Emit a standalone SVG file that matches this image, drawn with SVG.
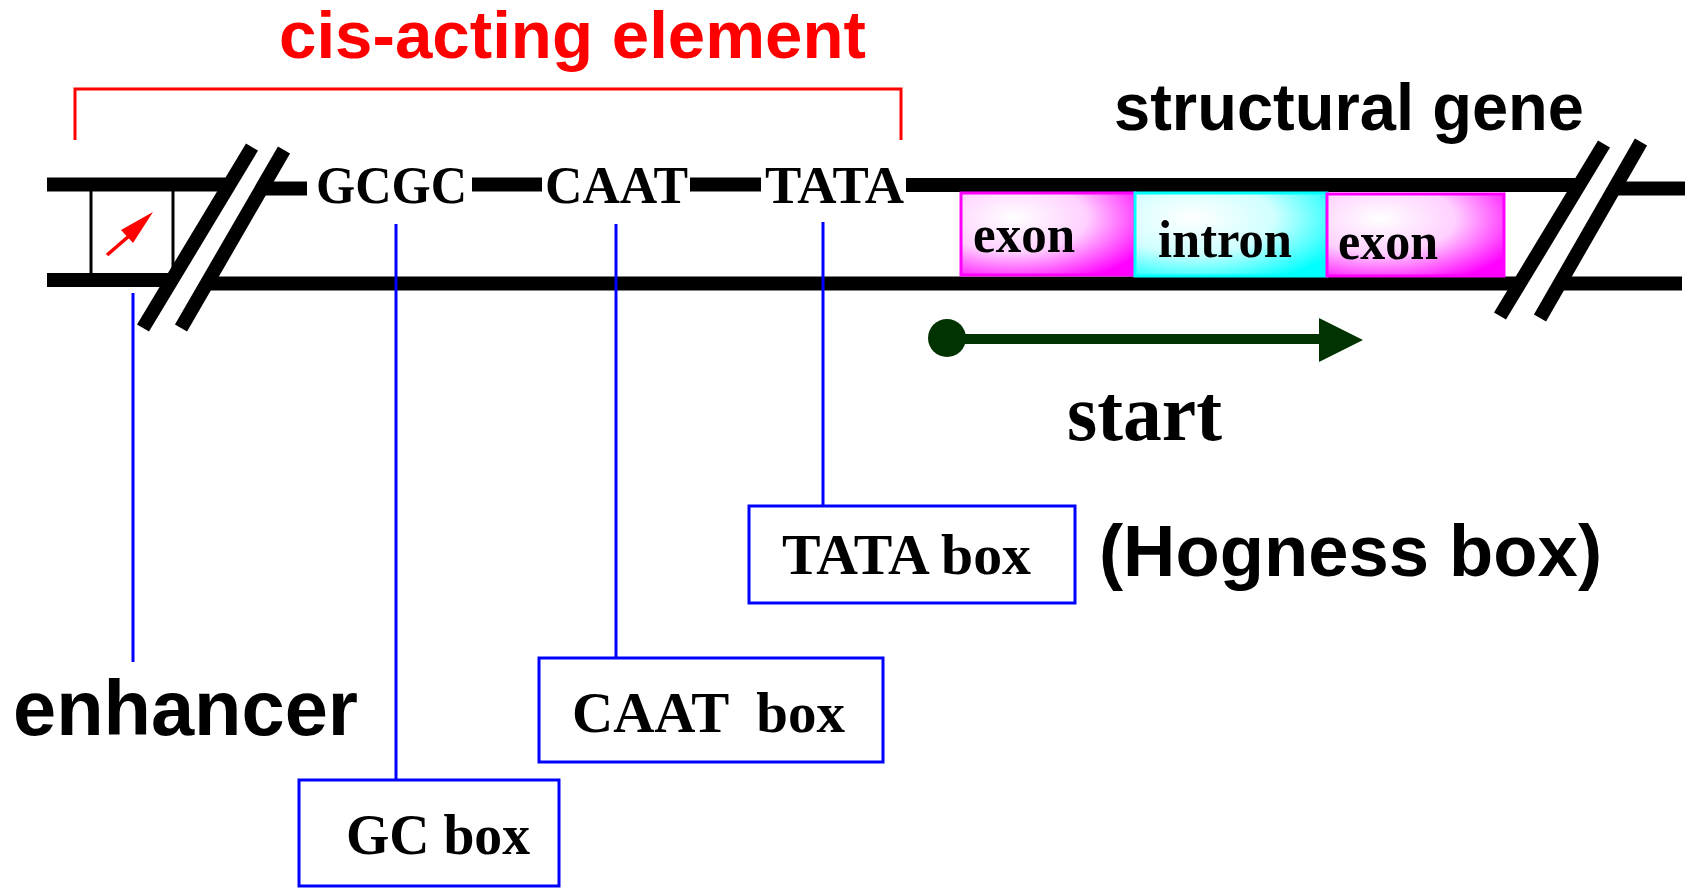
<svg xmlns="http://www.w3.org/2000/svg" width="1694" height="888" viewBox="0 0 1694 888">
<defs>
<style>
.dna{stroke:#000;stroke-width:14;fill:none;stroke-linecap:butt}
.seq{font-family:"Liberation Serif","Times New Roman",serif;font-weight:bold;font-size:53px;fill:#000}
.lbl{font-family:"Liberation Sans",Arial,sans-serif;font-weight:bold;fill:#000}
.bx{fill:#fff;stroke:#0000FF;stroke-width:3}
.bxt{font-family:"Liberation Serif","Times New Roman",serif;font-weight:bold;font-size:56px;fill:#000}
.lead{stroke:#0000FF;stroke-width:3;fill:none}
.gt{font-family:"Liberation Serif","Times New Roman",serif;font-weight:bold;font-size:52px;fill:#000}
</style>
<radialGradient id="gMag" cx="0.3" cy="0.3" r="0.85">
<stop offset="0" stop-color="#FFFFFF"/>
<stop offset="0.5" stop-color="#FFD0FF"/>
<stop offset="1" stop-color="#FF00FF"/>
</radialGradient>
<radialGradient id="gCyan" cx="0.3" cy="0.3" r="0.85">
<stop offset="0" stop-color="#FFFFFF"/>
<stop offset="0.5" stop-color="#D0FFFF"/>
<stop offset="1" stop-color="#00FFFF"/>
</radialGradient>
</defs>
<rect width="1694" height="888" fill="#fff"/>

<g id="cis-acting">
<path d="M75,140 V89 H901 V140" fill="none" stroke="#FF0000" stroke-width="3"/>
<text x="279" y="58" class="lbl" font-size="67" style="fill:#FF0000" textLength="587" lengthAdjust="spacingAndGlyphs">cis-acting element</text>
</g>

<g id="dna-strands">
<line class="dna" x1="47" y1="184.5" x2="232" y2="184.5"/>
<line class="dna" x1="47" y1="280" x2="174" y2="280"/>
<line class="dna" x1="262" y1="188.5" x2="307" y2="188.5"/>
<line class="dna" x1="472" y1="184.5" x2="542" y2="184.5"/>
<line class="dna" x1="690" y1="184.5" x2="761" y2="184.5"/>
<line class="dna" x1="906" y1="185" x2="1578" y2="185"/>
<line class="dna" x1="205" y1="283.5" x2="1521" y2="283.5"/>
<line class="dna" x1="1616" y1="188.5" x2="1685" y2="188.5"/>
<line class="dna" x1="1557" y1="283.5" x2="1682" y2="283.5"/>
<line class="dna" x1="252" y1="147" x2="143" y2="328"/>
<line class="dna" x1="284" y1="150" x2="181" y2="328"/>
<line class="dna" x1="1604" y1="144" x2="1500" y2="316"/>
<line class="dna" x1="1641" y1="142" x2="1540" y2="318"/>
</g>

<g id="enhancer-site">
<line x1="91" y1="191" x2="91" y2="273" stroke="#000" stroke-width="3"/>
<line x1="173" y1="191" x2="173" y2="273" stroke="#000" stroke-width="3"/>
<line x1="107" y1="255" x2="129" y2="236" stroke="#FF0000" stroke-width="3.5"/>
<polygon points="153,212 121,230 133,243" fill="#FF0000"/>
</g>

<g id="seq-gcgc"><text class="seq" x="316" y="203" textLength="151" lengthAdjust="spacingAndGlyphs">GCGC</text></g>
<g id="seq-caat"><text class="seq" x="545" y="203" textLength="143" lengthAdjust="spacingAndGlyphs">CAAT</text></g>
<g id="seq-tata"><text class="seq" x="765" y="203" textLength="139" lengthAdjust="spacingAndGlyphs">TATA</text></g>

<g id="exon1">
<rect x="961" y="193" width="174" height="82" fill="url(#gMag)" stroke="#FF00FF" stroke-width="3"/>
<text class="gt" x="973" y="252" textLength="102" lengthAdjust="spacingAndGlyphs">exon</text>
</g>
<g id="intron">
<rect x="1135" y="193" width="192" height="83" fill="url(#gCyan)" stroke="#00FFFF" stroke-width="3"/>
<text class="gt" x="1158" y="257" textLength="134" lengthAdjust="spacingAndGlyphs">intron</text>
</g>
<g id="exon2">
<rect x="1327" y="194" width="177" height="82" fill="url(#gMag)" stroke="#FF00FF" stroke-width="3"/>
<text class="gt" x="1338" y="259" textLength="100" lengthAdjust="spacingAndGlyphs">exon</text>
</g>

<g id="structural-gene-label">
<text class="lbl" x="1114" y="130" font-size="66" textLength="470" lengthAdjust="spacingAndGlyphs">structural gene</text>
</g>

<g id="start">
<circle cx="947" cy="338" r="19" fill="#003300"/>
<line x1="947" y1="339" x2="1322" y2="339" stroke="#003300" stroke-width="10"/>
<polygon points="1319,318 1363,340 1319,362" fill="#003300"/>
<text x="1067" y="440" font-family="'Liberation Serif','Times New Roman',serif" font-weight="bold" font-size="80" textLength="155" lengthAdjust="spacingAndGlyphs">start</text>
</g>

<g id="connectors">
<line class="lead" x1="133" y1="293" x2="133" y2="662"/>
<line class="lead" x1="396" y1="224" x2="396" y2="780"/>
<line class="lead" x1="616" y1="224" x2="616" y2="658"/>
<line class="lead" x1="823" y1="222" x2="823" y2="506"/>
</g>

<g id="tata-box">
<rect class="bx" x="749" y="506" width="326" height="97"/>
<text class="bxt" x="782" y="574" textLength="249" lengthAdjust="spacingAndGlyphs">TATA box</text>
</g>
<g id="hogness-label">
<text class="lbl" x="1099" y="576" font-size="72" textLength="503" lengthAdjust="spacingAndGlyphs">(Hogness box)</text>
</g>
<g id="caat-box">
<rect class="bx" x="539" y="658" width="344" height="104"/>
<text class="bxt" x="572" y="732" word-spacing="14" style="font-size:58px" textLength="273" lengthAdjust="spacingAndGlyphs">CAAT box</text>
</g>
<g id="gc-box">
<rect class="bx" x="299" y="780" width="260" height="106"/>
<text class="bxt" x="346" y="854" textLength="184" lengthAdjust="spacingAndGlyphs">GC box</text>
</g>
<g id="enhancer-label">
<text class="lbl" x="13" y="735" font-size="77" textLength="345" lengthAdjust="spacingAndGlyphs">enhancer</text>
</g>
</svg>
